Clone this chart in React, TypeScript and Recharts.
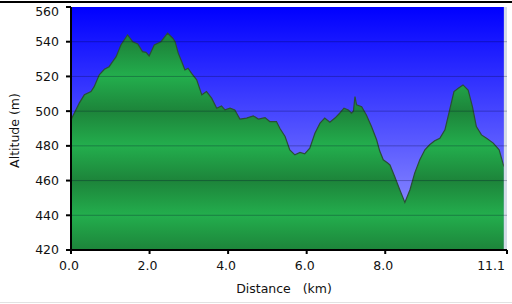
import React from 'react';
import {
  ComposedChart,
  Area,
  XAxis,
  YAxis,
  CartesianGrid,
  ReferenceLine,
  ReferenceArea,
  Label,
} from 'recharts';

const distances = [
  0, 0.21, 0.34, 0.51, 0.59, 0.72, 0.85, 0.97, 1.06, 1.15, 1.27, 1.44, 1.57, 1.7, 1.82, 1.91, 1.99,
  2.12, 2.29, 2.46, 2.59, 2.65, 2.73, 2.82, 2.9, 2.98, 3.07, 3.2, 3.33, 3.45, 3.58, 3.71, 3.83, 3.92,
  4.05, 4.17, 4.3, 4.47, 4.64, 4.77, 4.94, 5.06, 5.23, 5.32, 5.45, 5.57, 5.7, 5.83, 5.95, 6.08, 6.21,
  6.34, 6.46, 6.59, 6.72, 6.84, 6.95, 7.06, 7.14, 7.19, 7.23, 7.27, 7.4, 7.52, 7.65, 7.78, 7.86, 7.95,
  8.07, 8.12, 8.24, 8.37, 8.5, 8.63, 8.75, 8.88, 9.01, 9.13, 9.26, 9.39, 9.52, 9.64, 9.75, 9.86, 9.98,
  10.11, 10.22, 10.32, 10.45, 10.58, 10.75, 10.9, 10.96, 11.02,
];

const altitudes = [
  495, 504.6, 509.4, 511.3, 514.1, 520.9, 524.1, 525.6, 528.5, 531.4, 538.1, 543.9, 540, 538.7, 534.3,
  533.9, 531.8, 538.1, 540, 544.9, 542, 540, 533.4, 528.5, 523.7, 524.7, 521.8, 518, 509.4, 511.3, 507.5,
  501.7, 503, 500.7, 501.7, 500.7, 495.4, 496, 497.3, 495.4, 496.3, 494, 494, 490, 485.4, 477.7, 474.8,
  476.2, 475.4, 478.7, 487.3, 493.1, 496, 493.6, 496, 498.8, 501.7, 500.7, 498.8, 500, 508.4, 503.6,
  502.6, 497.8, 491.1, 483.5, 477, 472, 470, 469, 462.3, 454.7, 447.4, 454.7, 464.3, 472, 477.7, 480.6,
  482.9, 484.4, 489.2, 500.7, 511.3, 513.2, 515.1, 512.2, 502.6, 491.1, 486.3, 484.4, 481.6, 477.7,
  472.9, 468.1,
];

const xTicks = [0, 2, 4, 6, 8, 11.1];
const yTicks = [420, 440, 460, 480, 500, 520, 540, 560];
const gridLevels = [440, 460, 480, 500, 520, 540];

const data = distances.map((d, i) => ({ d, alt: altitudes[i] }));

const X_MAX = 11.1;
const Y_MIN = 420;
const Y_MAX = 560;
const BAND = 20;
const DARK = [29, 132, 58];
const LIGHT = [35, 174, 77];

function shadeAt(v: number): string {
  const t = (v - Y_MIN) / BAND;
  const k = Math.floor(t);
  const f = t - k;
  const a = k % 2 === 0 ? DARK : LIGHT;
  const b = k % 2 === 0 ? LIGHT : DARK;
  const c = a.map((x, i) => Math.round(x + (b[i] - x) * f));
  return `rgb(${c[0]},${c[1]},${c[2]})`;
}

const vTop = Math.max(...altitudes);
const levelsInside = yTicks.filter((l) => l < vTop && l > Y_MIN).sort((a, b) => b - a);
const greenStops = [vTop, ...levelsInside, Y_MIN].map((v) => ({
  offset: (vTop - v) / (vTop - Y_MIN),
  color: shadeAt(v),
}));

const FONT = '"DejaVu Sans", Verdana, sans-serif';
const FS = 12.5;

const XTick = (props: any) => {
  const { x, y, payload } = props;
  const last = payload.value === X_MAX;
  return (
    <text
      x={last ? x - 2 : x - 2}
      y={y}
      dy="0.71em"
      textAnchor={last ? 'end' : 'middle'}
      fontFamily={FONT}
      fontSize={FS}
      fill="#111"
    >
      {Number(payload.value).toFixed(1)}
    </text>
  );
};

const YTick = (props: any) => {
  const { x, y, payload } = props;
  const top = payload.value === Y_MAX;
  return (
    <text
      x={x}
      y={top ? y + 5 : y}
      dy="0.355em"
      textAnchor="end"
      fontFamily={FONT}
      fontSize={FS}
      fill="#111"
    >
      {payload.value}
    </text>
  );
};

const renderYLabel = (props: any) => {
  const vb = props.viewBox || { x: 21, y: 7, width: 50, height: 243 };
  const cx = vb.x - 7;
  const cy = vb.y + vb.height / 2 + 2;
  return (
    <text
      x={cx}
      y={cy}
      transform={`rotate(-90 ${cx} ${cy})`}
      textAnchor="middle"
      dominantBaseline="central"
      fontFamily={FONT}
      fontSize={FS}
      fill="#111"
    >
      Altitude (m)
    </text>
  );
};

const renderXLabel = (props: any) => {
  const vb = props.viewBox || { x: 71, y: 250, width: 436, height: 40 };
  const cx = vb.x + vb.width / 2 - 5;
  const cy = vb.y + 38;
  return (
    <text
      x={cx}
      y={cy}
      textAnchor="middle"
      dominantBaseline="central"
      fontFamily={FONT}
      fontSize={FS}
      fill="#111"
      style={{ whiteSpace: 'pre' }}
    >
      {'Distance   (km)'}
    </text>
  );
};

export default function App() {
  return (
    <div style={{ position: 'relative', width: 512, height: 304, background: '#fff' }}>
      <style>{'body{margin:0;background:#fff;}'}</style>
      <div style={{ position: 'absolute', left: 0, top: 1, width: 512, height: 2, background: '#000' }} />
      <div style={{ position: 'absolute', left: 0, top: 302, width: 512, height: 1, background: '#e2e2e2' }} />
      <ComposedChart
        width={512}
        height={304}
        data={data}
        margin={{ top: 7, right: 5, bottom: 14, left: 21 }}
      >
        <defs>
          <linearGradient id="bgBlue" x1="0" y1="0" x2="0" y2="1">
            <stop offset="0" stopColor="#0000ff" />
            <stop offset="1" stopColor="#a2a2ff" />
          </linearGradient>
          <linearGradient id="greenFill" x1="0" y1="0" x2="0" y2="1">
            {greenStops.map((s, i) => (
              <stop key={i} offset={s.offset} stopColor={s.color} />
            ))}
          </linearGradient>
        </defs>
        <CartesianGrid fill="url(#bgBlue)" horizontal={false} vertical={false} />
        <XAxis
          dataKey="d"
          type="number"
          domain={[0, X_MAX]}
          ticks={xTicks}
          interval={0}
          height={40}
          axisLine={{ stroke: '#000', strokeWidth: 2 }}
          tickLine={{ stroke: '#000', strokeWidth: 2 }}
          tickSize={4}
          tickMargin={7}
          tick={<XTick />}
          allowDataOverflow
        >
          <Label content={renderXLabel} />
        </XAxis>
        <YAxis
          type="number"
          domain={[Y_MIN, Y_MAX]}
          ticks={yTicks}
          interval={0}
          width={50}
          axisLine={{ stroke: '#000', strokeWidth: 2 }}
          tickLine={{ stroke: '#000', strokeWidth: 2 }}
          tickSize={5}
          tickMargin={7}
          tick={<YTick />}
          allowDataOverflow
        >
          <Label content={renderYLabel} />
        </YAxis>
        <Area
          type="linear"
          dataKey="alt"
          baseValue={Y_MIN}
          stroke="#2a4d36"
          strokeWidth={1.2}
          fill="url(#greenFill)"
          fillOpacity={1}
          isAnimationActive={false}
          dot={false}
          activeDot={false}
        />
        {gridLevels.map((l) => (
          <ReferenceLine key={l} y={l} stroke="rgba(0,0,40,0.28)" strokeWidth={1} />
        ))}
        <ReferenceArea x1={11.02} x2={X_MAX} y1={Y_MIN} y2={Y_MAX} fill="#d3dbe7" fillOpacity={1} stroke="none" />
      </ComposedChart>
    </div>
  );
}
